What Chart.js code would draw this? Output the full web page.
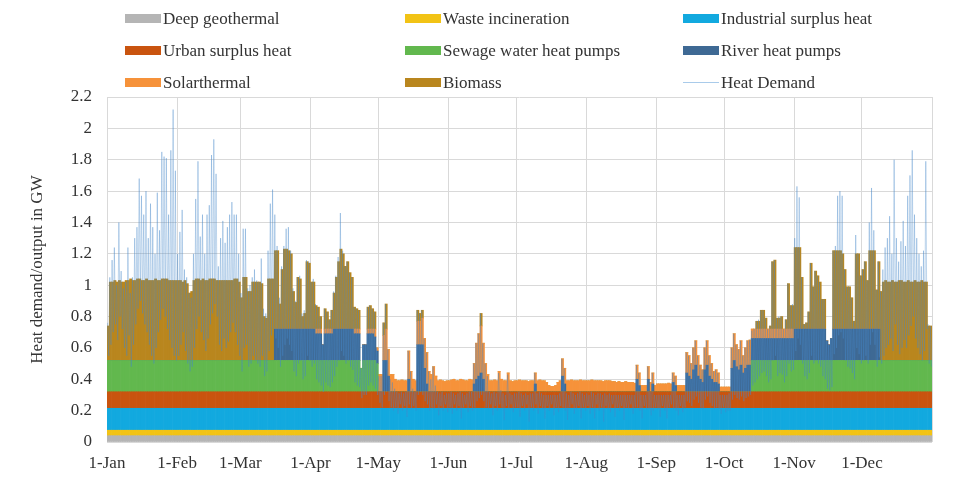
<!DOCTYPE html>
<html><head><meta charset="utf-8">
<script src="https://cdn.jsdelivr.net/npm/chart.js@4/dist/chart.umd.min.js"></script>
<style>
html,body{margin:0;padding:0;background:#fff;}
#wrap{position:relative;width:956px;height:478px;overflow:hidden;}
canvas{position:absolute;left:0;top:0;}
.lg{position:absolute;font:17px "Liberation Serif","Times New Roman",serif;color:#333;white-space:nowrap;line-height:20px;}
.sw{position:absolute;}
</style></head><body>
<div id="wrap"><canvas id="c" width="956" height="478"></canvas><div id="legend"></div></div>
<script>
// ---- tick labels (month starts, day-of-year index) ----
const monthStarts = [0,31,59,90,120,151,181,212,243,273,304,334,365];
const monthLabels = ['1-Jan','1-Feb','1-Mar','1-Apr','1-May','1-Jun','1-Jul','1-Aug','1-Sep','1-Oct','1-Nov','1-Dec',''];
const yTicks = [0,0.2,0.4,0.6,0.8,1,1.2,1.4,1.6,1.8,2,2.2];

// ---- daily values in GW (365 days) ----
const deepGeothermal = [
0.04,0.04,0.04,0.04,0.04,0.04,0.04,0.04,0.04,0.04,0.04,0.04,0.04,0.04,0.04,0.04,0.04,0.04,0.04,0.04,
0.04,0.04,0.04,0.04,0.04,0.04,0.04,0.04,0.04,0.04,0.04,0.04,0.04,0.04,0.04,0.04,0.04,0.04,0.04,0.04,
0.04,0.04,0.04,0.04,0.04,0.04,0.04,0.04,0.04,0.04,0.04,0.04,0.04,0.04,0.04,0.04,0.04,0.04,0.04,0.04,
0.04,0.04,0.04,0.04,0.04,0.04,0.04,0.04,0.04,0.04,0.04,0.04,0.04,0.04,0.04,0.04,0.04,0.04,0.04,0.04,
0.04,0.04,0.04,0.04,0.04,0.04,0.04,0.04,0.04,0.04,0.04,0.04,0.04,0.04,0.04,0.04,0.04,0.04,0.04,0.04,
0.04,0.04,0.04,0.04,0.04,0.04,0.04,0.04,0.04,0.04,0.04,0.04,0.04,0.04,0.04,0.04,0.04,0.04,0.04,0.04,
0.04,0.04,0.04,0.04,0.04,0.04,0.04,0.04,0.04,0.04,0.04,0.04,0.04,0.04,0.04,0.04,0.04,0.04,0.04,0.04,
0.04,0.04,0.04,0.04,0.04,0.04,0.04,0.04,0.04,0.04,0.04,0.04,0.04,0.04,0.04,0.04,0.04,0.04,0.04,0.04,
0.04,0.04,0.04,0.04,0.04,0.04,0.04,0.04,0.04,0.04,0.04,0.04,0.04,0.04,0.04,0.04,0.04,0.04,0.04,0.04,
0.04,0.04,0.04,0.04,0.04,0.04,0.04,0.04,0.04,0.04,0.04,0.04,0.04,0.04,0.04,0.04,0.04,0.04,0.04,0.04,
0.04,0.04,0.04,0.04,0.04,0.04,0.04,0.04,0.04,0.04,0.04,0.04,0.04,0.04,0.04,0.04,0.04,0.04,0.04,0.04,
0.04,0.04,0.04,0.04,0.04,0.04,0.04,0.04,0.04,0.04,0.04,0.04,0.04,0.04,0.04,0.04,0.04,0.04,0.04,0.04,
0.04,0.04,0.04,0.04,0.04,0.04,0.04,0.04,0.04,0.04,0.04,0.04,0.04,0.04,0.04,0.04,0.04,0.04,0.04,0.04,
0.04,0.04,0.04,0.04,0.04,0.04,0.04,0.04,0.04,0.04,0.04,0.04,0.04,0.04,0.04,0.04,0.04,0.04,0.04,0.04,
0.04,0.04,0.04,0.04,0.04,0.04,0.04,0.04,0.04,0.04,0.04,0.04,0.04,0.04,0.04,0.04,0.04,0.04,0.04,0.04,
0.04,0.04,0.04,0.04,0.04,0.04,0.04,0.04,0.04,0.04,0.04,0.04,0.04,0.04,0.04,0.04,0.04,0.04,0.04,0.04,
0.04,0.04,0.04,0.04,0.04,0.04,0.04,0.04,0.04,0.04,0.04,0.04,0.04,0.04,0.04,0.04,0.04,0.04,0.04,0.04,
0.04,0.04,0.04,0.04,0.04,0.04,0.04,0.04,0.04,0.04,0.04,0.04,0.04,0.04,0.04,0.04,0.04,0.04,0.04,0.04,
0.04,0.04,0.04,0.04,0.04];

const wasteIncineration = [
0.035,0.035,0.035,0.035,0.035,0.035,0.035,0.035,0.035,0.035,0.035,0.035,0.035,0.035,0.035,0.035,0.035,0.035,0.035,0.035,
0.035,0.035,0.035,0.035,0.035,0.035,0.035,0.035,0.035,0.035,0.035,0.035,0.035,0.035,0.035,0.035,0.035,0.035,0.035,0.035,
0.035,0.035,0.035,0.035,0.035,0.035,0.035,0.035,0.035,0.035,0.035,0.035,0.035,0.035,0.035,0.035,0.035,0.035,0.035,0.035,
0.035,0.035,0.035,0.035,0.035,0.035,0.035,0.035,0.035,0.035,0.035,0.035,0.035,0.035,0.035,0.035,0.035,0.035,0.035,0.035,
0.035,0.035,0.035,0.035,0.035,0.035,0.035,0.035,0.035,0.035,0.035,0.035,0.035,0.035,0.035,0.035,0.035,0.035,0.035,0.035,
0.035,0.035,0.035,0.035,0.035,0.035,0.035,0.035,0.035,0.035,0.035,0.035,0.035,0.035,0.035,0.035,0.035,0.035,0.035,0.035,
0.035,0.035,0.035,0.035,0.035,0.035,0.035,0.035,0.035,0.035,0.035,0.035,0.035,0.035,0.035,0.035,0.035,0.035,0.035,0.035,
0.035,0.035,0.035,0.035,0.035,0.035,0.035,0.035,0.035,0.035,0.035,0.035,0.035,0.035,0.035,0.035,0.035,0.035,0.035,0.035,
0.035,0.035,0.035,0.035,0.035,0.035,0.035,0.035,0.035,0.035,0.035,0.035,0.035,0.035,0.035,0.035,0.035,0.035,0.035,0.035,
0.035,0.035,0.035,0.035,0.035,0.035,0.035,0.035,0.035,0.035,0.035,0.035,0.035,0.035,0.035,0.035,0.035,0.035,0.035,0.035,
0.035,0.035,0.035,0.035,0.035,0.035,0.035,0.035,0.035,0.035,0.035,0.035,0.035,0.035,0.035,0.035,0.035,0.035,0.035,0.035,
0.035,0.035,0.035,0.035,0.035,0.035,0.035,0.035,0.035,0.035,0.035,0.035,0.035,0.035,0.035,0.035,0.035,0.035,0.035,0.035,
0.035,0.035,0.035,0.035,0.035,0.035,0.035,0.035,0.035,0.035,0.035,0.035,0.035,0.035,0.035,0.035,0.035,0.035,0.035,0.035,
0.035,0.035,0.035,0.035,0.035,0.035,0.035,0.035,0.035,0.035,0.035,0.035,0.035,0.035,0.035,0.035,0.035,0.035,0.035,0.035,
0.035,0.035,0.035,0.035,0.035,0.035,0.035,0.035,0.035,0.035,0.035,0.035,0.035,0.035,0.035,0.035,0.035,0.035,0.035,0.035,
0.035,0.035,0.035,0.035,0.035,0.035,0.035,0.035,0.035,0.035,0.035,0.035,0.035,0.035,0.035,0.035,0.035,0.035,0.035,0.035,
0.035,0.035,0.035,0.035,0.035,0.035,0.035,0.035,0.035,0.035,0.035,0.035,0.035,0.035,0.035,0.035,0.035,0.035,0.035,0.035,
0.035,0.035,0.035,0.035,0.035,0.035,0.035,0.035,0.035,0.035,0.035,0.035,0.035,0.035,0.035,0.035,0.035,0.035,0.035,0.035,
0.035,0.035,0.035,0.035,0.035];

const industrialSurplus = [
0.14,0.14,0.14,0.14,0.14,0.14,0.14,0.14,0.14,0.14,0.14,0.14,0.14,0.14,0.14,0.14,0.14,0.14,0.14,0.14,
0.14,0.14,0.14,0.14,0.14,0.14,0.14,0.14,0.14,0.14,0.14,0.14,0.14,0.14,0.14,0.14,0.14,0.14,0.14,0.14,
0.14,0.14,0.14,0.14,0.14,0.14,0.14,0.14,0.14,0.14,0.14,0.14,0.14,0.14,0.14,0.14,0.14,0.14,0.14,0.14,
0.14,0.14,0.14,0.14,0.14,0.14,0.14,0.14,0.14,0.14,0.14,0.14,0.14,0.14,0.14,0.14,0.14,0.14,0.14,0.14,
0.14,0.14,0.14,0.14,0.14,0.14,0.14,0.14,0.14,0.14,0.14,0.14,0.14,0.14,0.14,0.14,0.14,0.14,0.14,0.14,
0.14,0.14,0.14,0.14,0.14,0.14,0.14,0.14,0.14,0.14,0.14,0.14,0.14,0.14,0.14,0.14,0.14,0.14,0.14,0.14,
0.14,0.14,0.14,0.14,0.14,0.14,0.14,0.14,0.14,0.14,0.14,0.14,0.14,0.14,0.14,0.14,0.14,0.14,0.14,0.14,
0.14,0.14,0.14,0.14,0.14,0.14,0.14,0.14,0.14,0.14,0.14,0.14,0.14,0.14,0.14,0.14,0.14,0.14,0.14,0.14,
0.14,0.14,0.14,0.14,0.14,0.14,0.14,0.14,0.14,0.14,0.14,0.14,0.14,0.14,0.14,0.14,0.14,0.14,0.14,0.14,
0.14,0.14,0.14,0.14,0.14,0.14,0.14,0.14,0.14,0.14,0.14,0.14,0.14,0.14,0.14,0.14,0.14,0.14,0.14,0.14,
0.14,0.14,0.14,0.14,0.14,0.14,0.14,0.14,0.14,0.14,0.14,0.14,0.14,0.14,0.14,0.14,0.14,0.14,0.14,0.14,
0.14,0.14,0.14,0.14,0.14,0.14,0.14,0.14,0.14,0.14,0.14,0.14,0.14,0.14,0.14,0.14,0.14,0.14,0.14,0.14,
0.14,0.14,0.14,0.14,0.14,0.14,0.14,0.14,0.14,0.14,0.14,0.14,0.14,0.14,0.14,0.14,0.14,0.14,0.14,0.14,
0.14,0.14,0.14,0.14,0.14,0.14,0.14,0.14,0.14,0.14,0.14,0.14,0.14,0.14,0.14,0.14,0.14,0.14,0.14,0.14,
0.14,0.14,0.14,0.14,0.14,0.14,0.14,0.14,0.14,0.14,0.14,0.14,0.14,0.14,0.14,0.14,0.14,0.14,0.14,0.14,
0.14,0.14,0.14,0.14,0.14,0.14,0.14,0.14,0.14,0.14,0.14,0.14,0.14,0.14,0.14,0.14,0.14,0.14,0.14,0.14,
0.14,0.14,0.14,0.14,0.14,0.14,0.14,0.14,0.14,0.14,0.14,0.14,0.14,0.14,0.14,0.14,0.14,0.14,0.14,0.14,
0.14,0.14,0.14,0.14,0.14,0.14,0.14,0.14,0.14,0.14,0.14,0.14,0.14,0.14,0.14,0.14,0.14,0.14,0.14,0.14,
0.14,0.14,0.14,0.14,0.14];

const urbanSurplus = [
0.105,0.105,0.105,0.105,0.105,0.105,0.105,0.105,0.105,0.105,0.105,0.105,0.105,0.105,0.105,0.105,0.105,0.105,0.105,0.105,
0.105,0.105,0.105,0.105,0.105,0.105,0.105,0.105,0.105,0.105,0.105,0.105,0.105,0.105,0.105,0.105,0.105,0.105,0.105,0.105,
0.105,0.105,0.105,0.105,0.105,0.105,0.105,0.105,0.105,0.105,0.105,0.105,0.105,0.105,0.105,0.105,0.105,0.105,0.105,0.105,
0.105,0.105,0.105,0.105,0.105,0.105,0.105,0.105,0.105,0.105,0.105,0.105,0.105,0.105,0.105,0.105,0.105,0.105,0.105,0.105,
0.105,0.105,0.105,0.105,0.105,0.105,0.105,0.105,0.105,0.105,0.105,0.105,0.105,0.105,0.105,0.105,0.105,0.105,0.105,0.105,
0.105,0.105,0.105,0.105,0.105,0.105,0.105,0.105,0.105,0.105,0.105,0.105,0.105,0.105,0.105,0.105,0.105,0.105,0.105,0.105,
0.105,0.105,0.105,0.105,0.105,0.105,0.105,0.105,0.105,0.105,0.105,0.105,0.105,0.105,0.105,0.105,0.105,0.105,0.105,0.105,
0.105,0.105,0.105,0.105,0.105,0.105,0.105,0.105,0.105,0.105,0.105,0.105,0.105,0.105,0.105,0.105,0.105,0.105,0.105,0.105,
0.105,0.105,0.105,0.105,0.105,0.105,0.105,0.105,0.105,0.105,0.105,0.105,0.105,0.105,0.105,0.105,0.105,0.105,0.105,0.105,
0.105,0.105,0.105,0.105,0.105,0.105,0.105,0.105,0.105,0.105,0.105,0.105,0.105,0.105,0.105,0.105,0.105,0.105,0.105,0.105,
0.105,0.105,0.105,0.105,0.105,0.105,0.105,0.105,0.105,0.105,0.105,0.105,0.105,0.105,0.105,0.105,0.105,0.105,0.105,0.105,
0.105,0.105,0.105,0.105,0.105,0.105,0.105,0.105,0.105,0.105,0.105,0.105,0.105,0.105,0.105,0.105,0.105,0.105,0.105,0.105,
0.105,0.105,0.105,0.105,0.105,0.105,0.105,0.105,0.105,0.105,0.105,0.105,0.105,0.105,0.105,0.105,0.105,0.105,0.105,0.105,
0.105,0.105,0.105,0.105,0.105,0.105,0.105,0.105,0.105,0.105,0.105,0.105,0.105,0.105,0.105,0.105,0.105,0.105,0.105,0.105,
0.105,0.105,0.105,0.105,0.105,0.105,0.105,0.105,0.105,0.105,0.105,0.105,0.105,0.105,0.105,0.105,0.105,0.105,0.105,0.105,
0.105,0.105,0.105,0.105,0.105,0.105,0.105,0.105,0.105,0.105,0.105,0.105,0.105,0.105,0.105,0.105,0.105,0.105,0.105,0.105,
0.105,0.105,0.105,0.105,0.105,0.105,0.105,0.105,0.105,0.105,0.105,0.105,0.105,0.105,0.105,0.105,0.105,0.105,0.105,0.105,
0.105,0.105,0.105,0.105,0.105,0.105,0.105,0.105,0.105,0.105,0.105,0.105,0.105,0.105,0.105,0.105,0.105,0.105,0.105,0.105,
0.105,0.105,0.105,0.105,0.105];

const sewageHeatPumps = [
/*Jan*/0.2,0.2,0.2,0.2,0.2,0.2,0.2,0.2,0.2,0.2, 0.2,0.2,0.2,0.2,0.2,0.2,0.2,0.2,0.2,0.2, 0.2,0.2,0.2,0.2,0.2,0.2,0.2,0.2,0.2,0.2, 0.2,
/*Feb*/0.2,0.2,0.2,0.2,0.2,0.2,0.2,0.2,0.2,0.2, 0.2,0.2,0.2,0.2,0.2,0.2,0.2,0.2,0.2,0.2, 0.2,0.2,0.2,0.2,0.2,0.2,0.2,0.2,
/*Mar*/0.2,0.2,0.2,0.2,0.2,0.2,0.2,0.2,0.2,0.2, 0.2,0.2,0.2,0.2,0.2,0.2,0.2,0.2,0.2,0.2, 0.2,0.2,0.2,0.2,0.2,0.2,0.2,0.2,0.2,0.2, 0.2,
/*Apr*/0.2,0.2,0.2,0.2,0.2,0.2,0.2,0.2,0.2,0.2, 0.2,0.2,0.2,0.2,0.2,0.2,0.2,0.2,0.2,0.2, 0.2,0.2,0.15,0.2,0.2,0.2,0.2,0.2,0.2,0.18,
/*May*/0,0,0,0,0,0,0,0,0,0, 0,0,0,0,0,0,0,0,0,0, 0,0,0,0,0,0,0,0,0,0, 0,
/*Jun*/0,0,0,0,0,0,0,0,0,0, 0,0,0,0,0,0,0,0,0,0, 0,0,0,0,0,0,0,0,0,0,
/*Jul*/0,0,0,0,0,0,0,0,0,0, 0,0,0,0,0,0,0,0,0,0, 0,0,0,0,0,0,0,0,0,0, 0,
/*Aug*/0,0,0,0,0,0,0,0,0,0, 0,0,0,0,0,0,0,0,0,0, 0,0,0,0,0,0,0,0,0,0, 0,
/*Sep*/0,0,0,0,0,0,0,0,0,0, 0,0,0,0,0,0,0,0,0,0, 0,0,0,0,0,0,0,0,0,0,
/*Oct*/0,0,0,0,0,0,0,0,0,0, 0,0,0.2,0.2,0.2,0.2,0.2,0.2,0.2,0.2, 0.2,0.2,0.2,0.2,0.2,0.2,0.2,0.2,0.2,0.2, 0.2,
/*Nov*/0.2,0.2,0.2,0.2,0.2,0.2,0.2,0.2,0.2,0.2, 0.2,0.2,0.2,0.2,0.2,0.2,0.2,0.2,0.2,0.2, 0.2,0.2,0.2,0.2,0.2,0.2,0.2,0.2,0.2,0.2,
/*Dec*/0.2,0.2,0.2,0.2,0.2,0.2,0.2,0.2,0.2,0.2, 0.2,0.2,0.2,0.2,0.2,0.2,0.2,0.2,0.2,0.2, 0.2,0.2,0.2,0.2,0.2,0.2,0.2,0.2,0.2,0.2, 0.2];

const riverHeatPumps = [
/*Jan*/0,0,0,0,0,0,0,0,0,0, 0,0,0,0,0,0,0,0,0,0, 0,0,0,0,0,0,0,0,0,0, 0,
/*Feb*/0,0,0,0,0,0,0,0,0,0, 0,0,0,0,0,0,0,0,0,0, 0,0,0,0,0,0,0,0,
/*Mar*/0,0,0,0,0,0,0,0,0,0, 0,0,0,0,0,0.2,0.2,0.2,0.2,0.2, 0.2,0.2,0.2,0.2,0.2,0.2,0.2,0.2,0.2,0.2, 0.2,
/*Apr*/0.2,0.2,0.17,0.17,0.17,0.1,0.17,0.17,0.17,0.17, 0.2,0.2,0.2,0.2,0.2,0.2,0.2,0.2,0.2,0.17, 0.17,0.17,0,0.1,0.1,0.17,0.17,0.17,0.15,0.08,
/*May*/0,0,0.2,0.2,0.1,0,0,0,0,0, 0,0,0,0.08,0,0,0,0.3,0.3,0.3, 0.15,0.05,0,0,0,0,0,0,0,0, 0,
/*Jun*/0,0,0,0,0,0,0,0,0,0, 0,0.05,0.08,0.1,0.12,0.08,0,0,0,0, 0,0,0,0,0,0,0,0,0,0,
/*Jul*/0,0,0,0,0,0,0,0,0.05,0, 0,0,0,0,0,0,0,0,0,0, 0.1,0.05,0,0,0,0,0,0,0,0, 0,
/*Aug*/0,0,0,0,0,0,0,0,0,0, 0,0,0,0,0,0,0,0,0,0, 0,0,0.08,0.04,0,0,0,0.08,0,0.05, 0,
/*Sep*/0,0,0,0,0,0,0,0.06,0.04,0, 0,0,0,0.12,0.1,0.08,0.14,0.17,0.1,0.08, 0.06,0.14,0.17,0.1,0.08,0.06,0.06,0.05,0,0,
/*Oct*/0,0,0,0.15,0.2,0.16,0.14,0.17,0.12,0.15, 0.17,0.17,0.14,0.14,0.14,0.14,0.14,0.14,0.14,0.14, 0.14,0.14,0.14,0.14,0.14,0.14,0.14,0.14,0.14,0.14, 0.14,
/*Nov*/0.2,0.2,0.2,0.2,0.2,0.2,0.2,0.2,0.2,0.2, 0.2,0.2,0.2,0.2,0.125,0.1,0.14,0.2,0.2,0.2, 0.2,0.2,0.2,0.2,0.2,0.2,0.2,0.2,0.2,0.2,
/*Dec*/0.2,0.2,0.2,0.2,0.2,0.2,0.2,0.2,0,0, 0,0,0,0,0,0,0,0,0,0, 0,0,0,0,0,0,0,0,0,0, 0];

const solarthermal = [
/*Jan*/0,0,0,0,0,0,0,0,0,0, 0,0,0,0,0,0,0,0,0,0, 0,0,0,0,0,0,0,0,0,0, 0,
/*Feb*/0,0,0,0,0,0,0,0,0,0, 0,0,0,0,0,0,0,0,0,0, 0,0,0,0,0,0,0,0,
/*Mar*/0,0,0,0,0,0,0,0,0,0, 0,0,0,0,0,0,0,0,0,0, 0,0,0,0,0,0,0,0,0,0, 0,
/*Apr*/0,0,0.03,0.03,0.03,0,0.03,0.03,0.03,0.03, 0,0,0,0,0,0,0,0,0,0.03, 0.03,0.03,0,0,0,0.03,0.03,0.03,0.05,0.02,
/*May*/0.11,0.11,0.16,0.2,0.17,0.11,0.11,0.08,0.07,0.07, 0.075,0.07,0.07,0.18,0.13,0.08,0.07,0.15,0.15,0.17, 0.19,0.2,0.13,0.11,0.16,0.1,0.07,0.075,0.07,0.065, 0.07,
/*Jun*/0.07,0.075,0.08,0.07,0.07,0.08,0.075,0.07,0.07,0.08, 0.075,0.13,0.23,0.27,0.3,0.23,0.18,0.11,0.07,0.07, 0.075,0.07,0.13,0.08,0.07,0.07,0.12,0.07,0.065,0.07,
/*Jul*/0.07,0.075,0.07,0.07,0.07,0.065,0.07,0.07,0.07,0.07, 0.075,0.07,0.07,0.06,0.04,0.035,0.035,0.04,0.06,0.07, 0.11,0.1,0.07,0.07,0.075,0.07,0.07,0.07,0.075,0.07, 0.07,
/*Aug*/0.07,0.07,0.075,0.07,0.07,0.07,0.07,0.065,0.07,0.07, 0.07,0.065,0.065,0.06,0.065,0.06,0.06,0.065,0.06,0.06, 0.06,0.055,0.09,0.08,0.04,0.04,0.04,0.08,0.06,0.07, 0.04,
/*Sep*/0.05,0.05,0.05,0.05,0.05,0.055,0.05,0.06,0.06,0.04, 0.04,0.04,0.04,0.13,0.13,0.1,0.14,0.155,0.13,0.09, 0.08,0.14,0.155,0.13,0.1,0.07,0.08,0.07,0.03,0.03,
/*Oct*/0.03,0.03,0.03,0.13,0.17,0.14,0.13,0.155,0.11,0.13, 0.155,0.16,0.06,0.06,0.06,0.06,0.06,0.06,0.06,0.06, 0.06,0.06,0.06,0.06,0.06,0.06,0.06,0.06,0.06,0.06, 0.06,
/*Nov*/0,0,0,0,0,0,0,0,0,0, 0,0,0,0,0,0,0,0,0,0, 0,0,0,0,0,0,0,0,0,0,
/*Dec*/0,0,0,0,0,0,0,0,0,0, 0,0,0,0,0,0,0,0,0,0, 0,0,0,0,0,0,0,0,0,0, 0];

const biomass = [
/*Jan*/0.22,0.5,0.5,0.51,0.5,0.51,0.5,0.5,0.51,0.51, 0.52,0.51,0.51,0.52,0.52,0.51,0.51,0.52,0.51,0.51, 0.51,0.52,0.51,0.51,0.52,0.52,0.52,0.51,0.51,0.51, 0.51,
/*Feb*/0.51,0.51,0.5,0.51,0.49,0.43,0.44,0.51,0.52,0.52, 0.51,0.52,0.51,0.51,0.52,0.52,0.52,0.51,0.51,0.51, 0.51,0.51,0.51,0.51,0.51,0.52,0.52,0.5,
/*Mar*/0.4,0.53,0.53,0.44,0.44,0.5,0.5,0.5,0.5,0.49, 0.28,0.27,0.52,0.52,0.52,0.5,0.5,0.16,0.38,0.51, 0.51,0.5,0.48,0.24,0.17,0.33,0.32,0.08,0.1,0.43, 0.42,
/*Apr*/0.3,0.3,0.15,0.14,0.08,0,0.13,0.11,0.06,0.12, 0.23,0.33,0.43,0.51,0.48,0.4,0.43,0.36,0.33,0.14, 0.13,0.12,0,0,0,0.14,0.15,0.13,0.11,0,
/*May*/0,0,0.08,0.16,0,0,0,0,0,0, 0,0,0,0,0,0,0,0.07,0.05,0.05, 0,0,0,0,0,0,0,0,0,0, 0,
/*Jun*/0,0,0,0,0,0,0,0,0,0, 0,0,0,0,0.08,0,0,0,0,0, 0,0,0,0,0,0,0,0,0,0,
/*Jul*/0,0,0,0,0,0,0,0,0,0, 0,0,0,0,0,0,0,0,0,0, 0,0,0,0,0,0,0,0,0,0, 0,
/*Aug*/0,0,0,0,0,0,0,0,0,0, 0,0,0,0,0,0,0,0,0,0, 0,0,0,0,0,0,0,0,0,0, 0,
/*Sep*/0,0,0,0,0,0,0,0,0,0, 0,0,0,0,0,0,0,0,0,0, 0,0,0,0,0,0,0,0,0,0,
/*Oct*/0,0,0,0,0,0,0,0,0,0, 0,0,0,0,0.05,0.05,0.12,0.12,0.07,0, 0.02,0.43,0.44,0.07,0.07,0.08,0,0.06,0.29,0.15, 0.15,
/*Nov*/0.52,0.52,0.52,0.33,0.03,0.04,0.11,0.42,0.27,0.37, 0.34,0.3,0.19,0.19,0,0,0,0.5,0.5,0.5, 0.5,0.48,0.38,0.27,0.27,0.2,0.05,0.48,0.48,0.34,
/*Dec*/0.38,0.43,0.31,0.5,0.5,0.5,0.25,0.43,0.44,0.5, 0.51,0.5,0.5,0.51,0.5,0.5,0.51,0.51,0.5,0.5, 0.51,0.5,0.5,0.51,0.5,0.5,0.51,0.5,0.5,0.22, 0.22];

// Heat demand: daily peak and daily low
const demandPeak = [
/*Jan*/0.76,1.05,1.16,1.24,1.0,1.4,1.09,0.98,1.02,1.24, 0.95,1.05,1.3,1.37,1.68,1.57,1.45,1.6,1.3,1.52, 1.37,1.2,1.59,1.35,1.85,1.82,1.81,1.45,1.86,2.12, 1.73,
/*Feb*/1.2,1.34,1.48,1.1,1.05,0.95,0.92,1.2,1.55,1.79, 1.31,1.45,1.2,1.45,1.51,1.83,1.93,1.71,1.12,1.3, 1.41,1.27,1.37,1.45,1.53,1.45,1.45,1.2,
/*Mar*/0.95,1.36,1.36,0.98,1.0,1.05,1.1,1.03,1.02,1.17, 0.85,0.82,1.22,1.52,1.61,1.45,1.25,0.92,1.12,1.25, 1.36,1.37,1.22,0.98,0.9,1.05,1.06,0.82,0.84,1.16, 1.15,
/*Apr*/1.02,1.04,0.88,0.86,0.8,0.62,0.85,0.83,0.78,0.84, 0.96,1.06,1.18,1.46,1.22,1.12,1.15,1.08,1.05,0.86, 0.85,0.84,0.47,0.62,0.62,0.86,0.87,0.85,0.83,0.6,
/*May*/0.42,0.42,0.76,0.88,0.59,0.4,0.38,0.34,0.32,0.31, 0.32,0.31,0.32,0.58,0.45,0.34,0.32,0.84,0.82,0.84, 0.66,0.57,0.45,0.4,0.48,0.36,0.32,0.31,0.32,0.3, 0.31,
/*Jun*/0.31,0.32,0.31,0.3,0.31,0.32,0.31,0.3,0.31,0.32, 0.32,0.5,0.63,0.69,0.82,0.63,0.5,0.42,0.32,0.31, 0.32,0.31,0.44,0.33,0.31,0.3,0.43,0.31,0.3,0.31,
/*Jul*/0.31,0.32,0.31,0.3,0.31,0.3,0.31,0.31,0.44,0.31, 0.32,0.31,0.3,0.3,0.3,0.3,0.3,0.3,0.3,0.31, 0.53,0.47,0.31,0.3,0.32,0.31,0.3,0.31,0.32,0.31, 0.3,
/*Aug*/0.31,0.3,0.32,0.31,0.3,0.31,0.31,0.3,0.31,0.3, 0.31,0.3,0.3,0.3,0.3,0.3,0.3,0.3,0.3,0.3, 0.3,0.3,0.49,0.44,0.3,0.3,0.3,0.48,0.32,0.44, 0.3,
/*Sep*/0.3,0.3,0.3,0.3,0.3,0.3,0.3,0.44,0.42,0.3, 0.3,0.3,0.3,0.57,0.55,0.5,0.6,0.645,0.55,0.49, 0.46,0.6,0.645,0.55,0.5,0.45,0.46,0.44,0.3,0.3,
/*Oct*/0.3,0.3,0.31,0.6,0.69,0.62,0.59,0.645,0.55,0.6, 0.645,0.65,0.71,0.72,0.77,0.78,0.84,0.84,0.79,0.72, 0.74,1.15,1.16,0.79,0.8,0.8,0.72,0.78,1.01,0.87, 0.88,
/*Nov*/1.3,1.63,1.56,1.05,0.75,0.76,0.83,1.14,0.99,1.09, 1.06,1.02,0.91,0.91,0.645,0.62,0.66,1.22,1.25,1.57, 1.6,1.57,1.1,0.99,0.99,0.92,0.77,1.32,1.2,1.06,
/*Dec*/1.1,1.15,1.03,1.4,1.62,1.35,0.97,1.15,0.96,1.1, 1.24,1.3,1.44,1.2,1.8,1.3,1.15,1.28,1.41,1.25, 1.57,1.7,1.86,1.45,1.3,1.2,1.12,1.22,1.79,0.75, 0.74];

const demandLow = [
/*Jan*/0.55,0.62,0.7,0.75,0.65,0.8,0.72,0.6,0.55,0.68, 0.48,0.62,0.75,0.85,0.9,0.82,0.75,0.7,0.62,0.55, 0.5,0.6,0.7,0.78,0.85,0.8,0.72,0.65,0.6,0.55, 0.52,
/*Feb*/0.55,0.62,0.7,0.58,0.5,0.45,0.48,0.6,0.72,0.8, 0.7,0.65,0.58,0.66,0.75,0.82,0.88,0.8,0.62,0.58, 0.66,0.6,0.64,0.7,0.76,0.7,0.62,0.55,
/*Mar*/0.45,0.6,0.62,0.48,0.5,0.55,0.52,0.5,0.48,0.55, 0.42,0.45,0.58,0.68,0.72,0.66,0.6,0.48,0.55,0.62, 0.66,0.62,0.58,0.45,0.42,0.5,0.52,0.4,0.42,0.55, 0.52,
/*Apr*/0.48,0.5,0.4,0.38,0.36,0.32,0.38,0.36,0.35,0.38, 0.42,0.48,0.52,0.58,0.55,0.5,0.52,0.48,0.46,0.38, 0.36,0.35,0.28,0.3,0.3,0.36,0.38,0.36,0.34,0.3,
/*May*/0.25,0.22,0.3,0.32,0.26,0.22,0.2,0.22,0.18,0.24, 0.2,0.23,0.16,0.24,0.21,0.23,0.2,0.3,0.32,0.3, 0.26,0.24,0.2,0.22,0.21,0.24,0.17,0.23,0.2,0.24, 0.19,
/*Jun*/0.22,0.18,0.24,0.2,0.23,0.15,0.22,0.24,0.19,0.23, 0.2,0.22,0.26,0.28,0.3,0.26,0.22,0.21,0.24,0.17, 0.23,0.2,0.24,0.22,0.14,0.23,0.21,0.24,0.19,0.22,
/*Jul*/0.22,0.16,0.23,0.2,0.24,0.13,0.22,0.2,0.24,0.18, 0.23,0.21,0.15,0.23,0.2,0.24,0.17,0.22,0.19,0.23, 0.22,0.2,0.14,0.22,0.24,0.18,0.21,0.23,0.15,0.22, 0.2,
/*Aug*/0.23,0.18,0.22,0.15,0.24,0.2,0.22,0.13,0.23,0.21, 0.19,0.24,0.16,0.22,0.2,0.23,0.14,0.22,0.21,0.24, 0.18,0.22,0.22,0.2,0.15,0.23,0.21,0.21,0.17,0.2, 0.22,
/*Sep*/0.21,0.16,0.23,0.2,0.15,0.22,0.24,0.21,0.2,0.17, 0.23,0.19,0.22,0.26,0.25,0.23,0.27,0.29,0.25,0.22, 0.21,0.27,0.29,0.25,0.23,0.21,0.22,0.21,0.18,0.22,
/*Oct*/0.19,0.2,0.2,0.27,0.3,0.28,0.27,0.29,0.26,0.28, 0.29,0.3,0.36,0.38,0.4,0.42,0.44,0.45,0.42,0.38, 0.4,0.52,0.55,0.42,0.44,0.43,0.38,0.42,0.5,0.45, 0.46,
/*Nov*/0.58,0.66,0.62,0.5,0.42,0.4,0.44,0.55,0.5,0.52, 0.5,0.48,0.42,0.4,0.34,0.33,0.35,0.56,0.6,0.68, 0.7,0.66,0.52,0.48,0.47,0.44,0.4,0.6,0.56,0.5,
/*Dec*/0.52,0.55,0.5,0.62,0.7,0.62,0.48,0.54,0.5,0.55, 0.6,0.62,0.66,0.58,0.75,0.62,0.56,0.6,0.65,0.6, 0.68,0.74,0.8,0.66,0.6,0.56,0.52,0.58,0.72,0.5, 0.48];

// ---- checks ----
const allSeries = {deepGeothermal, wasteIncineration, industrialSurplus, urbanSurplus, sewageHeatPumps, riverHeatPumps, solarthermal, biomass, demandPeak, demandLow};
for (const k in allSeries) { if (allSeries[k].length !== 365) throw new Error(k + ' has ' + allSeries[k].length); }

// ---- styles ----
const FONT = '"Liberation Serif","Times New Roman",serif';
const TXT = '#333333';
const GRID = '#d9d9d9';
const barSeries = [
  {label:'Deep geothermal', data:deepGeothermal, color:'#b5b5b5'},
  {label:'Waste incineration', data:wasteIncineration, color:'#f2c315'},
  {label:'Industrial surplus heat', data:industrialSurplus, color:'#12a9df'},
  {label:'Urban surplus heat', data:urbanSurplus, color:'#c9540f'},
  {label:'Sewage water heat pumps', data:sewageHeatPumps, color:'#62b84e'},
  {label:'River heat pumps', data:riverHeatPumps, color:'#3e6994'},
  {label:'Solarthermal', data:solarthermal, color:'#f6923a'},
  {label:'Biomass', data:biomass, color:'#b9861e'}
];

const datasets = barSeries.map(s => ({
  type:'bar', label:s.label,
  data:s.data.map((v,i)=>({x:i+0.5, y:v})),
  backgroundColor:s.color, borderWidth:0,
  barPercentage:1, categoryPercentage:1, order:1
}));
const demandPoints = [];
demandPeak.forEach((v,i)=>{ demandPoints.push({x:i+0.25, y:v}); demandPoints.push({x:i+0.75, y:demandLow[i]}); });
datasets.push({
  type:'line', label:'Heat Demand', data:demandPoints, stack:'demand',
  borderColor:'rgba(70,135,200,0.5)', borderWidth:0.7, pointRadius:0, tension:0, fill:false, order:0
});

Chart.defaults.font.family = FONT;
Chart.defaults.font.size = 17;
Chart.defaults.color = TXT;

new Chart(document.getElementById('c'), {
  type:'bar',
  data:{datasets},
  options:{
    responsive:false, animation:false, devicePixelRatio:1,
    layout:{padding:{top:97, right:24, left:0, bottom:0}},
    plugins:{legend:{display:false}, tooltip:{enabled:false}},
    scales:{
      x:{
        type:'linear', min:0, max:365, stacked:true, offset:false,
        afterBuildTicks:(s)=>{ s.ticks = monthStarts.map(v=>({value:v})); },
        afterFit:(s)=>{ s.height = 36; },
        ticks:{autoSkip:false, maxRotation:0, padding:11, color:TXT, font:{family:FONT,size:17},
          callback:(v)=>{ const k = monthStarts.indexOf(v); return k>=0 ? monthLabels[k] : ''; }},
        grid:{color:GRID, lineWidth:1, drawTicks:false, offset:false},
        border:{display:false}
      },
      y:{
        min:0, max:2.2, stacked:true,
        afterBuildTicks:(s)=>{ s.ticks = yTicks.map(v=>({value:v})); },
        afterFit:(s)=>{ s.width = 107; },
        ticks:{padding:15, color:TXT, font:{family:FONT,size:17},
          callback:(v)=>String(Math.round(v*10)/10)},
        grid:{color:GRID, lineWidth:1, drawTicks:false},
        border:{display:false},
        title:{display:true, text:'Heat demand/output in GW', color:TXT, font:{family:FONT,size:17}, padding:{top:27,bottom:0}}
      }
    }
  }
});

// ---- legend (HTML, 3 columns x 3 rows) ----
const colX = [163, 443, 721], rowY = [18, 50, 82];
const lg = document.getElementById('legend');
const legendEntries = barSeries.map(s=>({label:s.label, color:s.color, line:false}))
  .concat([{label:'Heat Demand', color:'#a9cbea', line:true}]);
legendEntries.forEach((e,k)=>{
  const cx = colX[k%3], cy = rowY[Math.floor(k/3)];
  const sw = document.createElement('div'); sw.className='sw';
  if (e.line) sw.style.cssText = `left:${cx-38}px;top:${cy}px;width:36px;height:1px;background:${e.color};`;
  else sw.style.cssText = `left:${cx-38}px;top:${cy-4}px;width:36px;height:9px;background:${e.color};`;
  const t = document.createElement('div'); t.className='lg'; t.textContent = e.label;
  t.style.left = cx+'px'; t.style.top = (cy-9)+'px';
  lg.appendChild(sw); lg.appendChild(t);
});
</script>
</body></html>
